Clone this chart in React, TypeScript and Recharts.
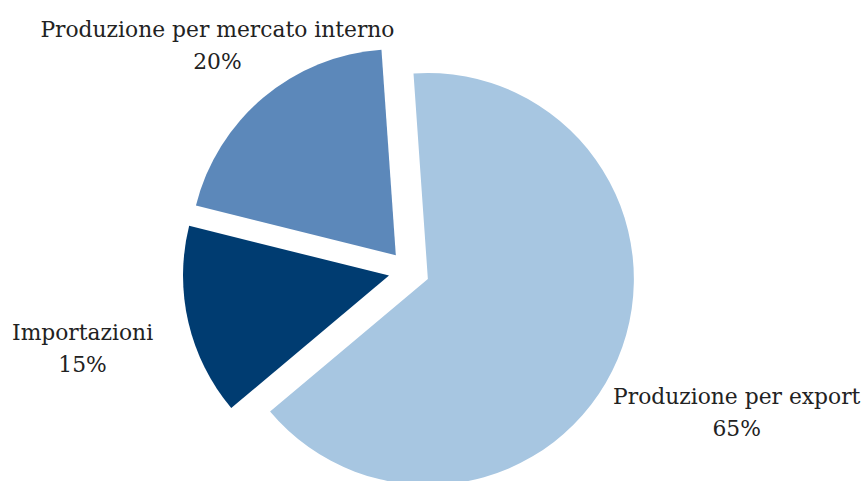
import { PieChart, Pie, Cell, Sector } from "recharts";

// Quote della fornitura: produzione interna, export, importazioni
const SEGMENTS = [
  "Produzione per mercato interno",
  "Importazioni",
  "Produzione per export",
];
const SHARES = [20, 15, 65];
const COLORS = ["#5c88ba", "#003c71", "#a7c6e1"];

const data = SEGMENTS.map((name, i) => ({ name, value: SHARES[i] }));

const RAD = Math.PI / 180;
const EXPLODE = 20.5;
// distance of each label's anchor point from the pie centre
const LABEL_RADIUS = [298, 335, 356];
const FONT = "'DejaVu Serif', serif";

function ExplodedSector(props: any) {
  const { cx, cy, midAngle, innerRadius, outerRadius, startAngle, endAngle, fill } = props;
  const dx = EXPLODE * Math.cos(-midAngle * RAD);
  const dy = EXPLODE * Math.sin(-midAngle * RAD);
  return (
    <Sector
      cx={cx + dx}
      cy={cy + dy}
      innerRadius={innerRadius}
      outerRadius={outerRadius}
      startAngle={startAngle}
      endAngle={endAngle}
      fill={fill}
      stroke="none"
    />
  );
}

function SliceLabel(props: any) {
  const { cx, cy, midAngle, index, payload, value } = props;
  const r = LABEL_RADIUS[index];
  const x = cx + r * Math.cos(-midAngle * RAD);
  const y = cy + r * Math.sin(-midAngle * RAD) + 10;
  return (
    <text textAnchor="middle" fontFamily={FONT} fontSize={21.8} fill="#222">
      <tspan x={x} y={y - 16}>
        {payload.name}
      </tspan>
      <tspan x={x} y={y + 16}>
        {value}%
      </tspan>
    </text>
  );
}

export default function App() {
  return (
    <div style={{ width: 864, height: 481, background: "#fff" }}>
      <style>{`body{margin:0}`}</style>
      <PieChart width={864} height={481} margin={{ top: 0, right: 0, bottom: 0, left: 0 }}>
        <Pie
          data={data}
          dataKey="value"
          nameKey="name"
          cx={409}
          cy={271}
          outerRadius={206}
          startAngle={94}
          endAngle={454}
          stroke="none"
          shape={ExplodedSector}
          activeShape={ExplodedSector}
          inactiveShape={ExplodedSector}
          label={SliceLabel}
          labelLine={false}
          isAnimationActive={false}
        >
          {data.map((d, i) => (
            <Cell key={d.name} fill={COLORS[i]} />
          ))}
        </Pie>
      </PieChart>
    </div>
  );
}
